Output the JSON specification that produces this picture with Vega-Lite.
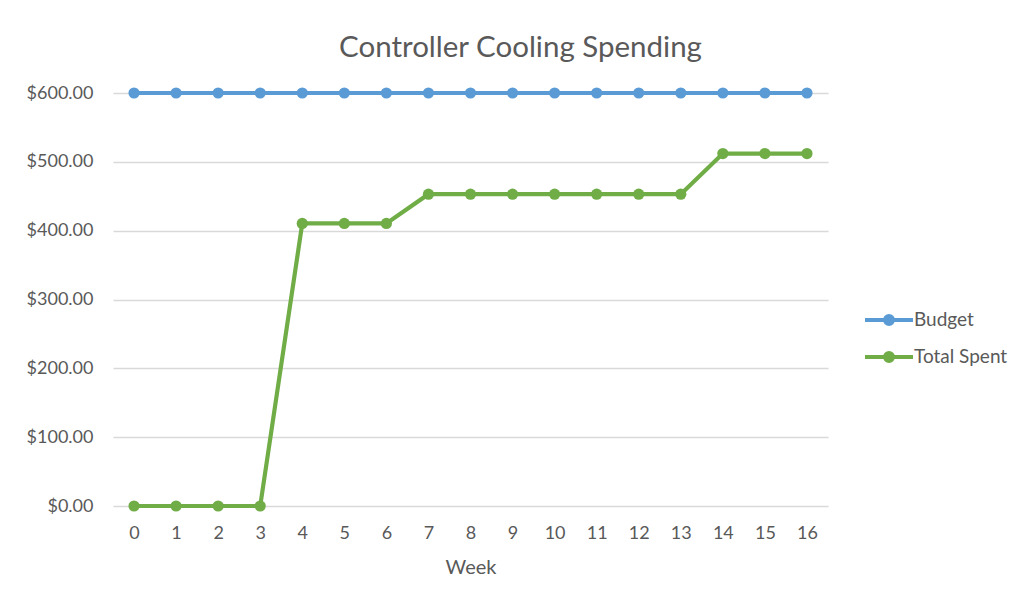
{
  "$schema": "https://vega.github.io/schema/vega-lite/v6.json",
  "width": 715,
  "height": 413,
  "autosize": {"type": "none"},
  "padding": {"left": 113, "top": 93, "right": 204, "bottom": 98},
  "background": "white",
  "title": {
    "text": "Controller Cooling Spending",
    "frame": "group",
    "anchor": "middle",
    "dx": 50,
    "baseline": "alphabetic",
    "offset": -2,
    "fontSize": 29.5,
    "font": "Lato",
    "fontWeight": "normal",
    "color": "#595959"
  },
  "data": {
    "values": [
      {"week": 0, "series": "Budget", "amount": 600},
      {"week": 1, "series": "Budget", "amount": 600},
      {"week": 2, "series": "Budget", "amount": 600},
      {"week": 3, "series": "Budget", "amount": 600},
      {"week": 4, "series": "Budget", "amount": 600},
      {"week": 5, "series": "Budget", "amount": 600},
      {"week": 6, "series": "Budget", "amount": 600},
      {"week": 7, "series": "Budget", "amount": 600},
      {"week": 8, "series": "Budget", "amount": 600},
      {"week": 9, "series": "Budget", "amount": 600},
      {"week": 10, "series": "Budget", "amount": 600},
      {"week": 11, "series": "Budget", "amount": 600},
      {"week": 12, "series": "Budget", "amount": 600},
      {"week": 13, "series": "Budget", "amount": 600},
      {"week": 14, "series": "Budget", "amount": 600},
      {"week": 15, "series": "Budget", "amount": 600},
      {"week": 16, "series": "Budget", "amount": 600},
      {"week": 0, "series": "Total Spent", "amount": 0},
      {"week": 1, "series": "Total Spent", "amount": 0},
      {"week": 2, "series": "Total Spent", "amount": 0},
      {"week": 3, "series": "Total Spent", "amount": 0},
      {"week": 4, "series": "Total Spent", "amount": 410.5},
      {"week": 5, "series": "Total Spent", "amount": 410.5},
      {"week": 6, "series": "Total Spent", "amount": 410.5},
      {"week": 7, "series": "Total Spent", "amount": 453},
      {"week": 8, "series": "Total Spent", "amount": 453},
      {"week": 9, "series": "Total Spent", "amount": 453},
      {"week": 10, "series": "Total Spent", "amount": 453},
      {"week": 11, "series": "Total Spent", "amount": 453},
      {"week": 12, "series": "Total Spent", "amount": 453},
      {"week": 13, "series": "Total Spent", "amount": 453},
      {"week": 14, "series": "Total Spent", "amount": 512},
      {"week": 15, "series": "Total Spent", "amount": 512},
      {"week": 16, "series": "Total Spent", "amount": 512}
    ]
  },
  "encoding": {
    "x": {
      "field": "week",
      "type": "ordinal",
      "scale": {"type": "point", "padding": 0.5},
      "axis": {
        "title": "Week",
        "labelAngle": 0,
        "ticks": false,
        "domain": false,
        "grid": false,
        "labelPadding": 18,
        "titlePadding": 15,
        "titleFontSize": 20
      }
    },
    "y": {
      "field": "amount",
      "type": "quantitative",
      "scale": {"domain": [0, 600], "nice": false, "zero": true},
      "axis": {
        "title": null,
        "format": "$.2f",
        "values": [0, 100, 200, 300, 400, 500, 600],
        "ticks": false,
        "domain": false,
        "labelPadding": 20,
        "gridColor": "#d9d9d9",
        "gridWidth": 1.3
      }
    },
    "color": {
      "field": "series",
      "type": "nominal",
      "scale": {"domain": ["Budget", "Total Spent"], "range": ["#5b9bd5", "#70ad47"]},
      "legend": {
        "title": null,
        "orient": "none",
        "legendX": 766,
        "legendY": 217,
        "padding": 0,
        "symbolType": "M-3,0L3,0M0.5,0A0.5,0.5,0,1,1,-0.5,0A0.5,0.5,0,1,1,0.5,0Z",
        "symbolSize": 256,
        "symbolStrokeWidth": 4,
        "labelOffset": 15,
        "rowPadding": 13,
        "labelFontSize": 19,
        "labelFont": "Lato",
        "labelColor": "#595959",
        "encode": {
          "symbols": {
            "update": {
              "fill": {"scale": "color", "field": "value"},
              "stroke": {"scale": "color", "field": "value"},
              "strokeWidth": {"value": 4},
              "opacity": {"value": 1}
            }
          }
        }
      }
    }
  },
  "layer": [
    {"mark": {"type": "line", "strokeWidth": 4.2}},
    {"mark": {"type": "point", "filled": true, "size": 125, "opacity": 1}}
  ],
  "config": {
    "view": {"stroke": null},
    "font": "Lato",
    "axis": {
      "labelFont": "Lato",
      "labelFontSize": 18,
      "labelColor": "#595959",
      "titleFont": "Lato",
      "titleFontSize": 18,
      "titleFontWeight": "normal",
      "titleColor": "#595959"
    }
  }
}
